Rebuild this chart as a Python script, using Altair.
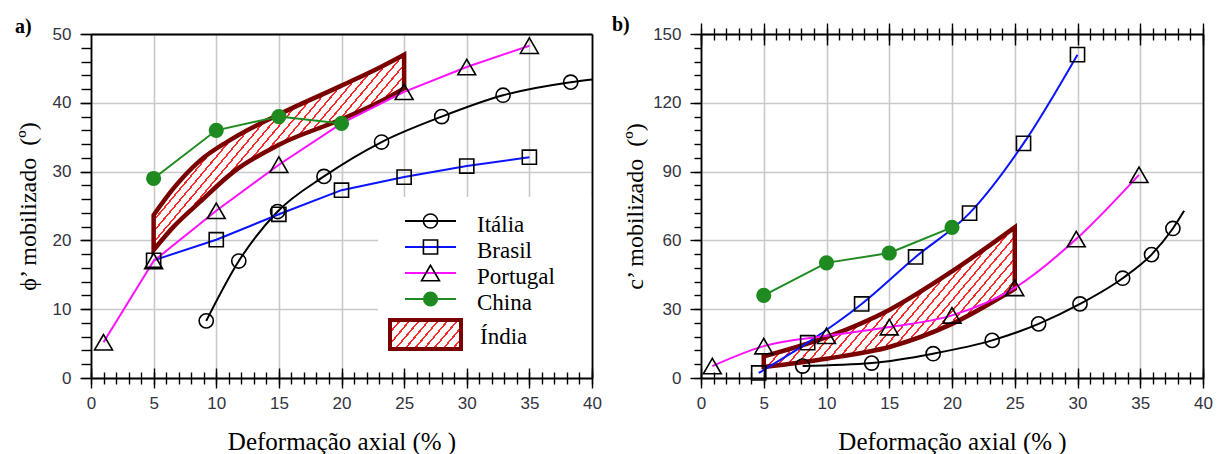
import math
import altair as alt
import pandas as pd

# ---------------- Panel a : phi' mobilizado ----------------
a_ita_x = [9.2, 11.8, 14.9, 18.6, 23.2, 28.0, 32.9, 38.3]
a_ita_y = [8.3, 17.0, 24.2, 29.3, 34.3, 38.0, 41.1, 43.0]
a_ita_tail_x = [40.0]
a_ita_tail_y = [43.4]
a_bra_x = [5, 10, 15, 20, 25, 30, 35]
a_bra_y = [17.1, 20.1, 23.8, 27.3, 29.2, 30.8, 32.1]
a_por_x = [1, 5, 10, 15, 20, 25, 30, 35]
a_por_y = [5.2, 17.0, 24.3, 31.0, 37.0, 41.6, 45.2, 48.3]
a_por_mark = [True, True, True, True, False, True, True, True]
a_chi_x = [5, 10, 15, 20]
a_chi_y = [29.0, 36.0, 38.0, 37.0]
a_ind_x = [5, 6.6, 8.7, 11.4, 15, 20, 22.9, 25]
a_ind_hi = [23.7, 27.6, 31.6, 34.9, 38.3, 42.5, 45.0, 47.0]
a_ind_lo = [18.6, 22.0, 25.6, 30.0, 33.9, 37.6, 40.0, 42.1]

# ---------------- Panel b : c' mobilizado ----------------
b_ita_x = [8.1, 13.6, 18.5, 23.2, 26.9, 30.2, 33.6, 35.9, 37.6]
b_ita_y = [5.2, 6.5, 10.6, 16.4, 23.6, 32.3, 43.5, 53.8, 65.2]
b_ita_tail_x = [38.5]
b_ita_tail_y = [72.9]
b_bra_x = [4.6, 8.5, 12.8, 17.1, 21.4, 25.7, 30.0]
b_bra_y = [2.2, 15.4, 32.3, 52.8, 71.9, 102.3, 141.0]
b_por_x = [0.9, 5, 10, 15, 20, 25, 29.9, 34.9]
b_por_y = [5.2, 13.9, 18.4, 22.2, 27.3, 39.3, 60.6, 88.6]
b_chi_x = [5, 10, 15, 20]
b_chi_y = [36.0, 50.2, 54.5, 65.7]
b_ind_x = [5, 10, 15, 20, 25]
b_ind_hi = [9.4, 17.8, 29.7, 46.5, 65.7]
b_ind_lo = [4.8, 8.4, 13.5, 23.6, 38.9]

legend_names = ["Itália", "Brasil", "Portugal", "China"]
band_name = "Índia"
x_title = "Deformação axial (% )"
a_y_title = "ϕ’ mobilizado \u00a0(º)"
b_y_title = "c’ mobilizado \u00a0(º)"

# ---------------- styles ----------------
W_A, W_B, H = 501, 502, 344
BLACK, BLUE, MAGENTA, GREEN = "black", "#0a14ff", "#ff10ff", "#1f8a1f"
DARKRED, HATCH = "#7a0000", "#ff2a2a"
LABEL_FONT = "Liberation Sans, Arial, sans-serif"
SERIF = "Liberation Serif, Times New Roman, Times, serif"
one = pd.DataFrame({"k": [0]})


def hatch(w, h, spacing=7.0, frac=0.22, angle=50):
    s = math.tan(math.radians(angle)) * w / h
    k = (s + 1) / (s * s + 1)
    a, b = k * s, k
    grad = math.sqrt((a / w) ** 2 + (b / h) ** 2) / (a * a + b * b)
    n = max(4, round((1 / grad) / spacing))
    stops = []
    for i in range(n):
        o0, o1, o2 = i / n, (i + frac) / n, (i + 1) / n
        stops += [{"offset": o0, "color": HATCH}, {"offset": o1, "color": HATCH},
                  {"offset": o1, "color": "white"}, {"offset": o2, "color": "white"}]
    return {"gradient": "linear", "stops": stops, "x1": 0, "y1": 0, "x2": a, "y2": b}


def ax(**kw):
    base = dict(grid=False, labels=False, ticks=False, domain=False, title=None, zindex=1,
                tickColor="black", tickWidth=1.4, domainColor="black", domainWidth=1.8)
    base.update(kw)
    return alt.Axis(**base)


def df(xs, ys):
    return pd.DataFrame({"x": xs, "y": ys})


def build_panel(width, ymax, ystep, yminor, yminor_len, y_title, title_pad,
                ita, ita_tail, bra, por, por_mark, chi, ind, top_ticks, lines_interp):
    xs = alt.Scale(domain=[0, 40], nice=False, zero=False)
    ys = alt.Scale(domain=[0, ymax], nice=False, zero=False)
    xmaj = list(range(0, 41, 5))
    xmin = list(range(0, 41, 1))
    ymaj = list(range(0, ymax + 1, ystep))
    ymin = list(range(0, ymax + 1, yminor))
    lab = dict(labels=True, labelFont=LABEL_FONT, labelFontSize=17, labelColor="#333340",
               labelFlush=False, labelOverlap=False)
    x_axes = [
        ax(orient="bottom", values=xmaj, grid=True, gridColor="#c9c9c9", gridWidth=1.6, zindex=0),
        ax(orient="bottom", values=xmaj, ticks=True, tickSize=10, domain=True, labelPadding=7,
           title=x_title, titleFont=SERIF, titleFontSize=25, titleFontWeight="normal",
           titleColor="black", titlePadding=18, **lab),
        ax(orient="bottom", values=xmaj, ticks=True, tickSize=10, offset=-10),
        ax(orient="bottom", values=xmin, ticks=True, tickSize=12, offset=-6),
    ]
    if top_ticks:
        x_axes += [
            ax(orient="top", values=xmaj, ticks=True, tickSize=11, domain=True),
            ax(orient="top", values=xmaj, ticks=True, tickSize=11, offset=-11),
            ax(orient="top", values=xmin, ticks=True, tickSize=12, offset=-6),
        ]
    else:
        x_axes += [ax(orient="top", domain=True)]
    y_axes = [
        ax(orient="left", values=ymaj, grid=True, gridColor="#c9c9c9", gridWidth=1.6, zindex=0),
        ax(orient="left", values=ymaj, ticks=True, tickSize=11, domain=True, labelPadding=9,
           title=y_title, titleFont=SERIF, titleFontSize=24, titleFontWeight="normal",
           titleColor="black", titlePadding=title_pad, **lab),
        ax(orient="left", values=ymin, ticks=True, tickSize=yminor_len),
        ax(orient="right", domain=True),
    ]

    layers = []
    ind_x, ind_hi, ind_lo = ind
    band = pd.DataFrame({"x": ind_x, "hi": ind_hi, "lo": ind_lo})
    bw = (max(ind_x) - min(ind_x)) * width / 40
    bh = (max(ind_hi) - min(ind_lo)) * H / ymax
    layers.append(("area", alt.Chart(band).mark_area(
        fill=hatch(bw, bh), stroke=DARKRED, strokeWidth=4.5, strokeJoin="miter",
        interpolate="monotone", opacity=1), "hi", "lo"))

    ita_line = df(ita[0] + ita_tail[0], ita[1] + ita_tail[1])
    layers.append(("line", alt.Chart(ita_line).mark_line(color=BLACK, strokeWidth=2,
                                                          interpolate="monotone"), "y", None))
    layers.append(("line", alt.Chart(df(*bra)).mark_line(color=BLUE, strokeWidth=2,
                                                        interpolate=lines_interp), "y", None))
    layers.append(("line", alt.Chart(df(*por)).mark_line(color=MAGENTA, strokeWidth=2,
                                                        interpolate=lines_interp), "y", None))
    layers.append(("line", alt.Chart(df(*chi)).mark_line(color=GREEN, strokeWidth=2), "y", None))

    pm = df(*por)
    pm = pm[por_mark] if por_mark is not None else pm
    layers.append(("pt", alt.Chart(df(*ita)).mark_point(shape="circle", filled=False, color=BLACK,
                                                         strokeWidth=1.6, size=200, opacity=1), "y", None))
    layers.append(("pt", alt.Chart(df(*bra)).mark_point(shape="square", filled=False, color=BLACK,
                                                         strokeWidth=1.6, size=200, opacity=1), "y", None))
    layers.append(("pt", alt.Chart(pm).mark_point(shape="triangle-up", filled=False, color=BLACK,
                                                   strokeWidth=1.6, size=320, opacity=1), "y", None))
    layers.append(("pt", alt.Chart(df(*chi)).mark_point(shape="circle", filled=True, color=GREEN,
                                                         size=230, opacity=1), "y", None))

    out = []
    for i, (kind, ch, yf, y2f) in enumerate(layers):
        xa = x_axes[i] if i < len(x_axes) else None
        ya = y_axes[i] if i < len(y_axes) else None
        enc = dict(x=alt.X("x:Q", scale=xs, axis=xa),
                   y=alt.Y(f"{yf}:Q", scale=ys, axis=ya))
        if y2f:
            enc["y2"] = alt.Y2(y2f)
        out.append(ch.encode(**enc))
    return out


a_layers = build_panel(W_A, 50, 10, 2, 10, a_y_title, 12,
                       (a_ita_x, a_ita_y), (a_ita_tail_x, a_ita_tail_y),
                       (a_bra_x, a_bra_y), (a_por_x, a_por_y), a_por_mark,
                       (a_chi_x, a_chi_y), (a_ind_x, a_ind_hi, a_ind_lo), False, "linear")

# legend for panel a (drawn inside plot a)
leg = [alt.Chart(one).mark_rect(fill="white").encode(
    x=alt.value(287), x2=alt.value(W_A), y=alt.value(163), y2=alt.value(H))]
leg_colors = [BLACK, BLUE, MAGENTA, GREEN]
leg_shapes = ["circle", "square", "triangle-up", "circle"]
leg_filled = [False, False, False, True]
leg_sizes = [200, 200, 320, 230]
for i, name in enumerate(legend_names):
    ry = 187 + i * 26
    leg.append(alt.Chart(one).mark_rule(color=leg_colors[i], strokeWidth=2).encode(
        x=alt.value(314), x2=alt.value(365), y=alt.value(ry)))
    leg.append(alt.Chart(one).mark_point(
        shape=leg_shapes[i], filled=leg_filled[i],
        color=(GREEN if leg_filled[i] else BLACK), strokeWidth=1.6,
        size=leg_sizes[i], opacity=1).encode(x=alt.value(339.5), y=alt.value(ry)))
    leg.append(alt.Chart(one).mark_text(text=name, font=SERIF, fontSize=23, align="left",
                                        baseline="middle", color="black").encode(
        x=alt.value(386), y=alt.value(ry + 4)))
leg.append(alt.Chart(one).mark_rect(fill=hatch(71, 29), stroke=DARKRED, strokeWidth=4).encode(
    x=alt.value(299), x2=alt.value(370), y=alt.value(286), y2=alt.value(315)))
leg.append(alt.Chart(one).mark_text(text=band_name, font=SERIF, fontSize=23, align="left",
                                    baseline="middle", color="black").encode(
    x=alt.value(389), y=alt.value(303)))
tag_a = alt.Chart(one).mark_text(text="a)", font=SERIF, fontSize=20, fontWeight="bold",
                                 align="left", baseline="middle", color="black").encode(
    x=alt.value(-76), y=alt.value(-7))

panel_a = alt.layer(*a_layers, *leg, tag_a).resolve_axis(
    x="independent", y="independent").properties(width=W_A, height=H)

b_layers = build_panel(W_B, 150, 30, 6, 7, b_y_title, 5,
                       (b_ita_x, b_ita_y), (b_ita_tail_x, b_ita_tail_y),
                       (b_bra_x, b_bra_y), (b_por_x, b_por_y), None,
                       (b_chi_x, b_chi_y), (b_ind_x, b_ind_hi, b_ind_lo), True, "monotone")
tag_b = alt.Chart(one).mark_text(text="b)", font=SERIF, fontSize=20, fontWeight="bold",
                                 align="left", baseline="middle", color="black").encode(
    x=alt.value(-89), y=alt.value(-9))
panel_b = alt.layer(*b_layers, tag_b).resolve_axis(
    x="independent", y="independent").properties(width=W_B, height=H)

chart = alt.hconcat(panel_a, panel_b, spacing=109, bounds="flush").configure_view(
    stroke=None).properties(padding={"left": 15, "top": 15, "right": 2, "bottom": 0},
                            background="white")

chart.save("out.html", embed_options={"renderer": "svg", "actions": False})
